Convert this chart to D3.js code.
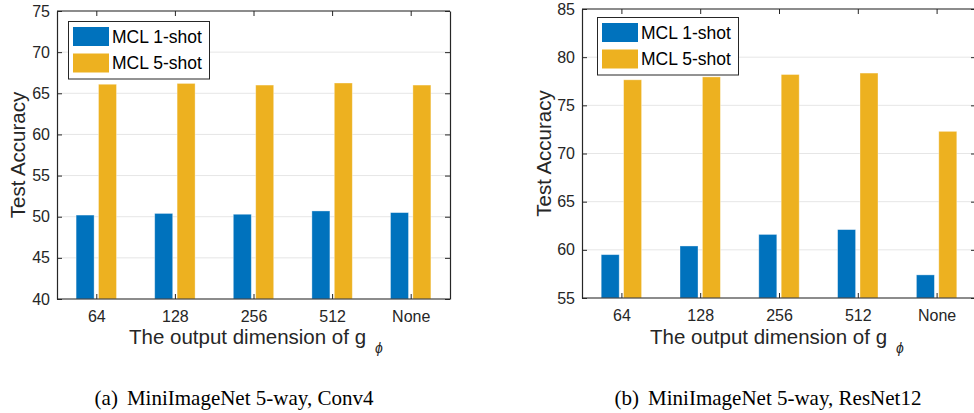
<!DOCTYPE html>
<html>
<head>
<meta charset="utf-8">
<script src="https://cdn.jsdelivr.net/npm/d3@7"></script>
<style>
  body { margin: 0; background: #fff; }
  svg { display: block; }
  .axis text { font-family: "Liberation Sans", Arial, sans-serif; font-size: 16px; fill: #262626; }
  .axis path, .axis line { stroke: #262626; }
  .label { font-family: "Liberation Sans", Arial, sans-serif; font-size: 20.5px; fill: #262626; }
  .legend text { font-family: "Liberation Sans", Arial, sans-serif; font-size: 17.5px; fill: #000; }
  .caption { font-family: "Liberation Serif", "Times New Roman", serif; font-size: 21px; fill: #000; }
</style>
</head>
<body>
<svg width="974" height="413"></svg>
<script>
"use strict";
// data
var categories = ["64", "128", "256", "512", "None"];
var series = ["MCL 1-shot", "MCL 5-shot"];
var colours = ["#0072BD", "#EDB120"];
var conv4_1shot = [50.2, 50.4, 50.3, 50.7, 50.5];
var conv4_5shot = [66.1, 66.2, 66.0, 66.25, 66.0];
var res12_1shot = [59.5, 60.4, 61.6, 62.1, 57.4];
var res12_5shot = [77.65, 77.95, 78.2, 78.35, 72.3];
var conv4Ticks = [40, 45, 50, 55, 60, 65, 70, 75];
var res12Ticks = [55, 60, 65, 70, 75, 80, 85];
var captions = ["(a)", "MiniImageNet 5-way, Conv4", "(b)", "MiniImageNet 5-way, ResNet12"];

var svg = d3.select("svg");

function drawPanel(p) {
    var width = p.right - p.left, height = p.bottom - p.top;
    var g = svg.append("g")
        .attr("transform", "translate(" + p.left + "," + p.top + ")");

    var x0 = d3.scaleBand().domain(categories).range([0, width]).padding(0);
    var x1 = d3.scaleBand().domain(series).range([-20.2, 20.2]).paddingInner(0.196).paddingOuter(0);
    var y = d3.scaleLinear().domain(d3.extent(p.ticks)).range([height, 0]);

    // grid
    g.selectAll(".grid")
        .data(p.ticks)
        .enter().append("line")
        .attr("class", "grid")
        .attr("x1", 0).attr("x2", width)
        .attr("y1", function (d) { return y(d); })
        .attr("y2", function (d) { return y(d); })
        .style("stroke", "#e6e6e6")
        .style("stroke-width", 1);

    // bars
    var rows = categories.map(function (c, i) {
        return [{ cat: c, s: series[0], v: p.a[i] }, { cat: c, s: series[1], v: p.b[i] }];
    });
    g.selectAll(".grp")
        .data(rows)
        .enter().append("g")
        .attr("class", "grp")
        .attr("transform", function (d) { return "translate(" + (x0(d[0].cat) + x0.bandwidth() / 2) + ",0)"; })
        .selectAll("rect")
        .data(function (d) { return d; })
        .enter().append("rect")
        .attr("x", function (d) { return x1(d.s); })
        .attr("width", x1.bandwidth())
        .attr("y", function (d) { return y(d.v); })
        .attr("height", function (d) { return height - y(d.v); })
        .style("fill", function (d, i) { return colours[i]; })
        .style("stroke", "rgba(255,255,255,0.45)")
        .style("stroke-width", 0.8);

    // axes, MATLAB style with inward ticks on all four sides
    var xLin = d3.scalePoint().domain(categories).range([x0.bandwidth() / 2, width - x0.bandwidth() / 2]);

    g.append("g").attr("class", "axis")
        .attr("transform", "translate(0," + height + ")")
        .call(d3.axisBottom(xLin).tickSize(-5).tickSizeOuter(0).tickPadding(12))
        .call(function (a) { a.select(".domain").attr("d", "M0,0H" + width); });
    g.append("g").attr("class", "axis")
        .call(d3.axisTop(xLin).tickSize(-5).tickSizeOuter(0).tickFormat(""))
        .call(function (a) { a.select(".domain").attr("d", "M0,0H" + width); });
    g.append("g").attr("class", "axis")
        .call(d3.axisLeft(y).tickValues(p.ticks).tickSize(-5).tickSizeOuter(0).tickPadding(7));
    g.append("g").attr("class", "axis")
        .attr("transform", "translate(" + width + ",0)")
        .call(d3.axisRight(y).tickValues(p.ticks).tickSize(-5).tickSizeOuter(0).tickFormat(""));
    g.selectAll(".axis .domain").style("stroke-width", 1.2);

    // axis labels
    svg.append("text")
        .attr("class", "label")
        .attr("text-anchor", "middle")
        .attr("transform", "translate(" + p.ylabX + "," + ((p.top + p.bottom) / 2) + ") rotate(-90)")
        .text("Test Accuracy");
    var xl = svg.append("text")
        .attr("class", "label")
        .attr("x", p.xlabX)
        .attr("y", 344);
    xl.append("tspan").text("The output dimension of g");
    xl.append("tspan")
        .attr("dx", 9).attr("dy", 9)
        .style("font-size", "14px")
        .style("font-style", "italic")
        .text("\u03D5");

    // legend
    var lg = svg.append("g").attr("class", "legend")
        .attr("transform", "translate(" + p.legX + "," + p.legY + ")");
    lg.append("rect")
        .attr("width", 141).attr("height", 57.5)
        .style("fill", "#fff").style("stroke", "#262626").style("stroke-width", 1);
    series.forEach(function (s, i) {
        lg.append("rect")
            .attr("x", 4.5).attr("y", 5.5 + i * 26.5)
            .attr("width", 36).attr("height", 19)
            .style("fill", colours[i]);
        lg.append("text")
            .attr("x", 43.5).attr("y", 21 + i * 26.5)
            .text(s);
    });

    // caption
    var cp = svg.append("text")
        .attr("class", "caption")
        .attr("text-anchor", "middle")
        .attr("x", p.capX)
        .attr("y", 405);
    cp.append("tspan").text(p.cap[0]);
    cp.append("tspan").attr("dx", 9).text(p.cap[1]);
}

drawPanel({ left: 57, right: 450, top: 11, bottom: 299, ticks: conv4Ticks,
    a: conv4_1shot, b: conv4_5shot, ylabX: 25, xlabX: 129,
    legX: 68.5, legY: 21.5, capX: 234, cap: [captions[0], captions[1]] });
drawPanel({ left: 582, right: 976, top: 9, bottom: 298, ticks: res12Ticks,
    a: res12_1shot, b: res12_5shot, ylabX: 551, xlabX: 650,
    legX: 597.5, legY: 17.5, capX: 768, cap: [captions[2], captions[3]] });
</script>
</body>
</html>
